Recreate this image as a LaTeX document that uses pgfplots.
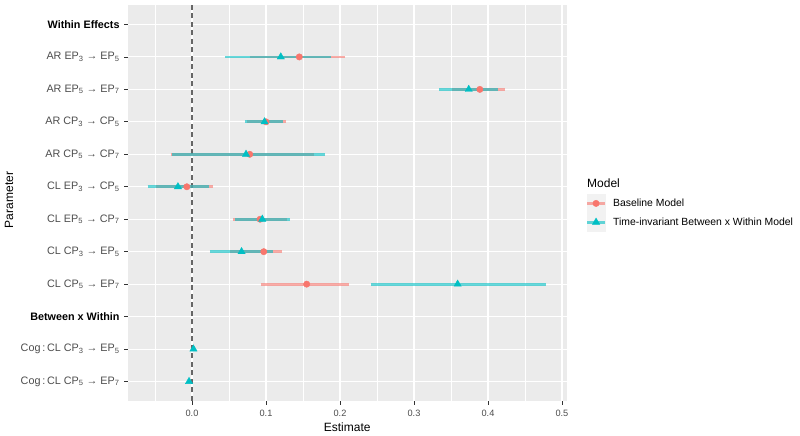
\documentclass[border=0pt]{standalone}
\usepackage{fontspec}
\setmainfont{Liberation Sans}
\usepackage{pgfplots}
\pgfplotsset{compat=1.18}
\definecolor{ggbg}{HTML}{EBEBEB}
\definecolor{ggred}{HTML}{F8766D}
\definecolor{ggteal}{HTML}{00BFC4}
\definecolor{grey30}{HTML}{4D4D4D}
\definecolor{grey20}{HTML}{333333}
\definecolor{keybg}{HTML}{F2F2F2}
\definecolor{vline}{HTML}{666666}
\newcommand{\sub}[1]{\textsubscript{#1}}
\begin{document}
\begin{tikzpicture}[x=1pt,y=1pt]
\useasboundingbox (0,0) rectangle (800,436);
\begin{axis}[
  at={(127.7pt,35pt)}, anchor=south west,
  scale only axis, width=439pt, height=396pt,
  xmin=-0.0869, xmax=0.5064, ymin=0.4, ymax=12.6,
  axis background/.style={fill=ggbg},
  axis line style={draw=none},
  xtick={0,0.1,0.2,0.3,0.4,0.5},
  xticklabels={0.0,0.1,0.2,0.3,0.4,0.5},
  minor xtick={-0.05,0.05,0.15,0.25,0.35,0.45},
  ytick={1,2,3,4,5,6,7,8,9,10,11,12},
  yticklabels={
    {Cog\,:\,CL CP\sub{5} → EP\sub{7}},
    {Cog\,:\,CL CP\sub{3} → EP\sub{5}},
    {\color{black}\bfseries Between x Within},
    {CL CP\sub{5} → EP\sub{7}},
    {CL CP\sub{3} → EP\sub{5}},
    {CL EP\sub{5} → CP\sub{7}},
    {CL EP\sub{3} → CP\sub{5}},
    {AR CP\sub{5} → CP\sub{7}},
    {AR CP\sub{3} → CP\sub{5}},
    {AR EP\sub{5} → EP\sub{7}},
    {AR EP\sub{3} → EP\sub{5}},
    {\color{black}\bfseries Within Effects}},
  xmajorgrids, ymajorgrids, xminorgrids,
  major grid style={white, line width=1.07pt},
  minor grid style={white, line width=0.53pt},
  tick pos=left,
  tick align=outside,
  major tick length=3.6pt, minor tick length=0pt,
  tick style={grey20, line width=0.8pt},
  xticklabel style={font=\fontsize{9.2}{10}\selectfont, text=grey30, yshift=-2pt},
  yticklabel style={font=\fontsize{10.8}{12}\selectfont, text=grey30, xshift=-1pt},
  legend style={at={(1.044,0.5227)}, anchor=north west, draw=none, fill=none,
    inner sep=0pt, outer sep=0pt, row sep=0pt, column sep=7pt,
    nodes={inner sep=0pt, anchor=west},
    font=\fontsize{10.4}{12}\selectfont},
  legend cell align=left,
  bci/.style={ggred, opacity=0.6, line width=2.8pt, forget plot},
  tci/.style={ggteal, opacity=0.6, line width=2.8pt, forget plot},
]
% reference line at zero
\addplot[vline, line width=1.3pt, dash pattern=on 5pt off 3.5pt, forget plot] coordinates {(0,0.4) (0,12.6)};
% Baseline model CIs
\addplot[bci] coordinates {(0.078,11) (0.207,11)};
\addplot[bci] coordinates {(0.352,10) (0.423,10)};
\addplot[bci] coordinates {(0.075,9) (0.127,9)};
\addplot[bci] coordinates {(-0.029,8) (0.165,8)};
\addplot[bci] coordinates {(-0.049,7) (0.028,7)};
\addplot[bci] coordinates {(0.056,6) (0.128,6)};
\addplot[bci] coordinates {(0.051,5) (0.122,5)};
\addplot[bci] coordinates {(0.093,4) (0.212,4)};
% Time-invariant model CIs
\addplot[tci] coordinates {(0.045,11) (0.188,11)};
\addplot[tci] coordinates {(0.334,10) (0.413,10)};
\addplot[tci] coordinates {(0.072,9) (0.123,9)};
\addplot[tci] coordinates {(-0.027,8) (0.180,8)};
\addplot[tci] coordinates {(-0.060,7) (0.023,7)};
\addplot[tci] coordinates {(0.058,6) (0.132,6)};
\addplot[tci] coordinates {(0.024,5) (0.110,5)};
\addplot[tci] coordinates {(0.242,4) (0.478,4)};
\addplot[tci] coordinates {(0.001,2) (0.003,2)};
\addplot[tci] coordinates {(-0.005,1) (-0.003,1)};
% Baseline estimates
\addplot[only marks, mark=*, mark size=3.2pt, color=ggred, mark options={draw=none, fill=ggred}, forget plot]
  coordinates {(0.145,11) (0.389,10) (0.100,9) (0.078,8) (-0.007,7) (0.092,6) (0.097,5) (0.155,4)};
% Time-invariant estimates
\addplot[only marks, mark=triangle*, mark size=4.2pt, color=ggteal, mark options={draw=none, fill=ggteal}, forget plot]
  coordinates {(0.120,11) (0.374,10) (0.098,9) (0.073,8) (-0.019,7) (0.095,6) (0.067,5) (0.359,4) (0.002,2) (-0.004,1)};
\addlegendimage{legend image code/.code={
  \fill[keybg] (0pt,-9.2pt) rectangle (17.3pt,9.2pt);
  \draw[ggred, opacity=0.6, line width=2.8pt] (0pt,0pt) -- (17.3pt,0pt);
  \fill[ggred] (8.65pt,0pt) circle (3.2pt);}}
\addlegendentry{Baseline Model}
\addlegendimage{legend image code/.code={
  \fill[keybg] (0pt,-9.2pt) rectangle (17.3pt,9.2pt);
  \draw[ggteal, opacity=0.6, line width=2.8pt] (0pt,0pt) -- (17.3pt,0pt);
  \fill[ggteal] (8.65pt,4.2pt) -- (5.01pt,-2.1pt) -- (12.29pt,-2.1pt) -- cycle;}}
\addlegendentry{Time-invariant Between x Within Model}
\end{axis}
\node[anchor=west, font=\fontsize{12}{14}\selectfont, inner sep=0pt] at (587,252.7) {Model};
\node[font=\fontsize{12}{14}\selectfont, inner sep=0pt] at (347.2,9) {Estimate};
\node[font=\fontsize{12}{14}\selectfont, inner sep=0pt, rotate=90] at (9,236) {Parameter};
\end{tikzpicture}
\end{document}
